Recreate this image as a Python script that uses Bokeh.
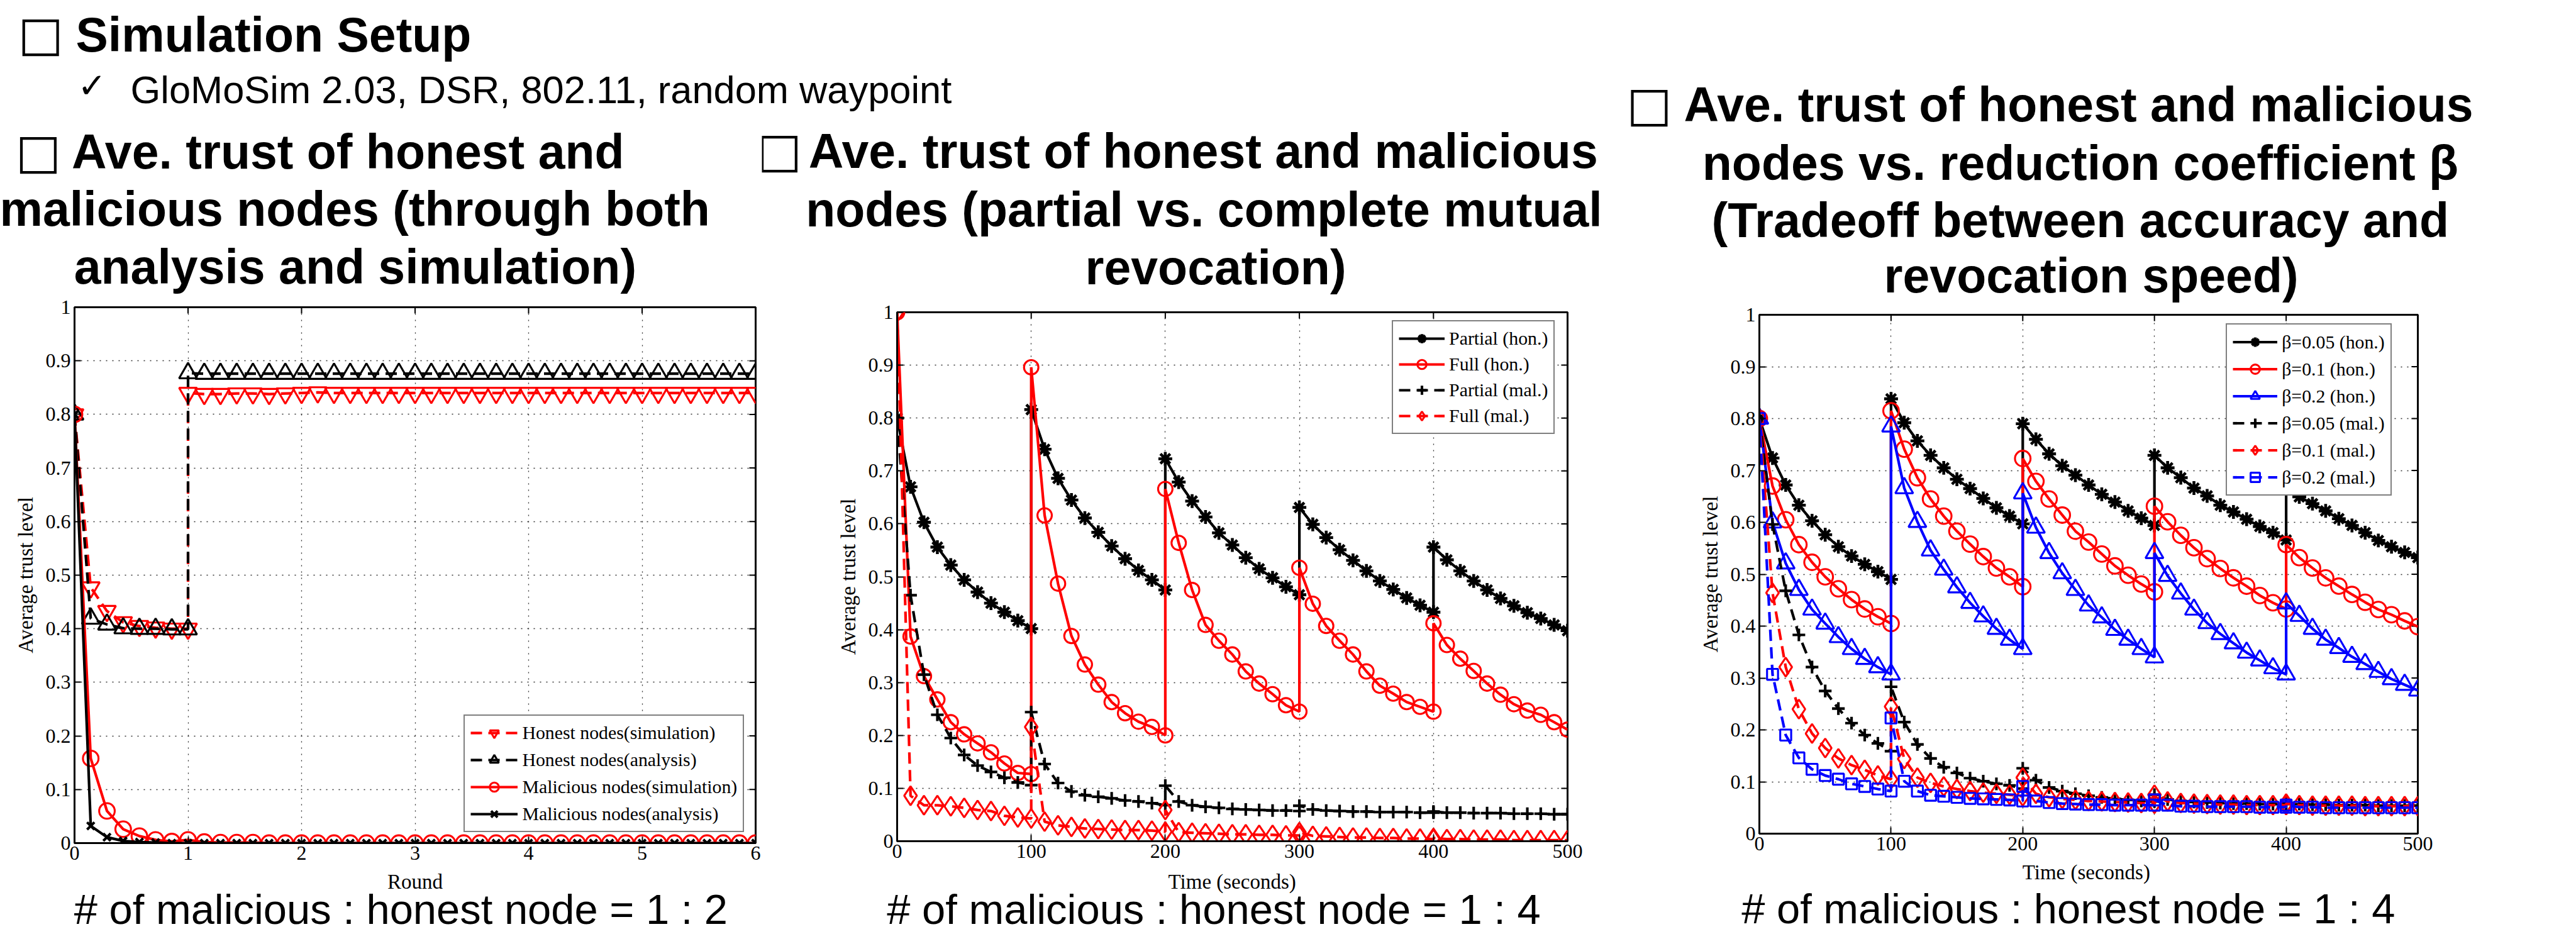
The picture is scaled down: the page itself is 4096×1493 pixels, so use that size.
from bokeh.plotting import figure
from bokeh.models import Range1d, Legend, LegendItem, FixedTicker
from bokeh.layouts import row, column
from bokeh.embed import file_html
from bokeh.resources import INLINE
from bokeh.core.properties import value

# ---------------------------------------------------------------- data
ROUND_TICKS = [0, 1, 2, 3, 4, 5, 6]
ROUND_LABELS = ["0", "1", "2", "3", "4", "5", "6"]
TIME_TICKS = [0, 100, 200, 300, 400, 500]
TIME_LABELS = ["0", "100", "200", "300", "400", "500"]
TRUST_TICKS = [0, 0.1, 0.2, 0.3, 0.4, 0.5, 0.6, 0.7, 0.8, 0.9, 1]
TRUST_LABELS = ["0", "0.1", "0.2", "0.3", "0.4", "0.5", "0.6", "0.7", "0.8", "0.9", "1"]

# plot 1 : rounds sampled 7 times per round
ROUNDS = [i / 7 for i in range(43)]
honest_sim_first = [0.80, 0.477, 0.433, 0.412, 0.405, 0.402, 0.400, 0.400]
honest_sim_after = [0.840, 0.838, 0.838, 0.839, 0.839, 0.838, 0.839, 0.840, 0.841, 0.840, 0.840, 0.840,
                    0.840, 0.840, 0.840, 0.840, 0.840, 0.840, 0.840, 0.840, 0.840, 0.840, 0.840, 0.840,
                    0.840, 0.840, 0.840, 0.840, 0.840, 0.840, 0.840, 0.840, 0.840, 0.840, 0.840, 0.840]
honest_ana_first = [0.80, 0.419, 0.408, 0.401, 0.400, 0.400, 0.399, 0.399]
honest_ana_after = [0.877, 0.876, 0.876, 0.876, 0.876, 0.876, 0.876, 0.876, 0.876, 0.876, 0.876, 0.876,
                    0.876, 0.876, 0.876, 0.876, 0.876, 0.876, 0.876, 0.876, 0.876, 0.876, 0.876, 0.876,
                    0.876, 0.876, 0.876, 0.876, 0.876, 0.876, 0.876, 0.876, 0.876, 0.876, 0.876, 0.876]
malicious_sim = [0.80, 0.158, 0.060, 0.026, 0.013, 0.006, 0.003, 0.006, 0.002, 0.001, 0.001,
                 0.001, 0.000, 0.000, 0.000, 0.000, 0.000, 0.000, 0.000, 0.000, 0.000, 0.000,
                 0.000, 0.000, 0.000, 0.000, 0.000, 0.000, 0.000, 0.000, 0.000, 0.000, 0.000,
                 0.000, 0.000, 0.000, 0.000, 0.000, 0.000, 0.000, 0.000, 0.000, 0.000]
malicious_ana = [0.80, 0.032, 0.011, 0.004, 0.002, 0.001, 0.000, 0.000, 0.000, 0.000, 0.000,
                 0.000, 0.000, 0.000, 0.000, 0.000, 0.000, 0.000, 0.000, 0.000, 0.000, 0.000,
                 0.000, 0.000, 0.000, 0.000, 0.000, 0.000, 0.000, 0.000, 0.000, 0.000, 0.000,
                 0.000, 0.000, 0.000, 0.000, 0.000, 0.000, 0.000, 0.000, 0.000, 0.000]

# plots 2 and 3 : time in seconds, one list per 100 s revocation epoch (11 samples each)
TIME = [0, 10, 20, 30, 40, 50, 60, 70, 80, 90, 100, 110, 120, 130, 140, 150, 160, 170, 180, 190,
        200, 210, 220, 230, 240, 250, 260, 270, 280, 290, 300, 310, 320, 330, 340, 350, 360, 370,
        380, 390, 400, 410, 420, 430, 440, 450, 460, 470, 480, 490, 500]

partial_hon = [[0.80, 0.670, 0.603, 0.556, 0.522, 0.494, 0.471, 0.450, 0.433, 0.417, 0.402],
               [0.816, 0.741, 0.686, 0.645, 0.611, 0.584, 0.558, 0.534, 0.512, 0.494, 0.475],
               [0.723, 0.679, 0.643, 0.613, 0.583, 0.560, 0.536, 0.515, 0.498, 0.481, 0.466],
               [0.631, 0.599, 0.574, 0.551, 0.531, 0.511, 0.492, 0.476, 0.460, 0.446, 0.433],
               [0.556, 0.532, 0.511, 0.492, 0.475, 0.459, 0.445, 0.432, 0.421, 0.409, 0.398]]
full_hon = [[1.00, 0.387, 0.312, 0.268, 0.225, 0.202, 0.185, 0.168, 0.147, 0.129, 0.127],
            [0.896, 0.616, 0.487, 0.388, 0.334, 0.296, 0.263, 0.242, 0.226, 0.216, 0.200],
            [0.666, 0.564, 0.475, 0.409, 0.379, 0.353, 0.321, 0.298, 0.278, 0.257, 0.245],
            [0.517, 0.449, 0.407, 0.379, 0.353, 0.321, 0.294, 0.279, 0.263, 0.254, 0.245],
            [0.412, 0.371, 0.345, 0.322, 0.298, 0.277, 0.259, 0.247, 0.239, 0.225, 0.211]]
partial_mal = [[0.80, 0.465, 0.315, 0.239, 0.195, 0.163, 0.143, 0.131, 0.120, 0.111, 0.106],
               [0.244, 0.146, 0.110, 0.094, 0.087, 0.084, 0.081, 0.077, 0.075, 0.072, 0.068],
               [0.105, 0.075, 0.068, 0.065, 0.063, 0.061, 0.060, 0.059, 0.058, 0.058, 0.057],
               [0.067, 0.060, 0.058, 0.057, 0.056, 0.056, 0.055, 0.055, 0.055, 0.054, 0.054],
               [0.056, 0.054, 0.054, 0.053, 0.053, 0.053, 0.052, 0.052, 0.052, 0.051, 0.051]]
full_mal = [[1.00, 0.086, 0.068, 0.068, 0.066, 0.063, 0.059, 0.057, 0.048, 0.045, 0.043],
            [0.216, 0.037, 0.030, 0.027, 0.024, 0.023, 0.022, 0.021, 0.021, 0.020, 0.018],
            [0.059, 0.017, 0.016, 0.015, 0.014, 0.013, 0.013, 0.012, 0.012, 0.011, 0.011],
            [0.017, 0.010, 0.009, 0.008, 0.007, 0.007, 0.006, 0.006, 0.005, 0.005, 0.004],
            [0.006, 0.004, 0.004, 0.003, 0.003, 0.003, 0.002, 0.002, 0.002, 0.002, 0.002]]

beta005_hon = [[0.80, 0.724, 0.672, 0.633, 0.603, 0.576, 0.553, 0.535, 0.519, 0.505, 0.490],
               [0.838, 0.792, 0.757, 0.729, 0.705, 0.683, 0.665, 0.646, 0.628, 0.612, 0.597],
               [0.790, 0.760, 0.732, 0.709, 0.691, 0.672, 0.654, 0.639, 0.622, 0.608, 0.594],
               [0.729, 0.705, 0.686, 0.666, 0.651, 0.633, 0.620, 0.606, 0.592, 0.580, 0.566],
               [0.668, 0.649, 0.636, 0.622, 0.607, 0.594, 0.580, 0.565, 0.553, 0.542, 0.532]]
beta01_hon = [[0.80, 0.670, 0.605, 0.557, 0.523, 0.495, 0.472, 0.451, 0.433, 0.418, 0.405],
              [0.815, 0.741, 0.686, 0.645, 0.612, 0.583, 0.558, 0.534, 0.512, 0.495, 0.476],
              [0.723, 0.679, 0.645, 0.614, 0.583, 0.562, 0.539, 0.516, 0.498, 0.481, 0.466],
              [0.631, 0.601, 0.575, 0.551, 0.530, 0.511, 0.493, 0.477, 0.459, 0.445, 0.433],
              [0.557, 0.532, 0.512, 0.493, 0.477, 0.461, 0.446, 0.432, 0.422, 0.410, 0.399]]
beta02_hon = [[0.80, 0.600, 0.521, 0.470, 0.432, 0.405, 0.379, 0.356, 0.337, 0.321, 0.307],
              [0.785, 0.666, 0.601, 0.546, 0.509, 0.475, 0.445, 0.419, 0.395, 0.374, 0.356],
              [0.656, 0.590, 0.541, 0.502, 0.470, 0.440, 0.417, 0.393, 0.374, 0.356, 0.340],
              [0.541, 0.497, 0.463, 0.432, 0.406, 0.385, 0.367, 0.349, 0.334, 0.319, 0.307],
              [0.444, 0.420, 0.395, 0.374, 0.358, 0.341, 0.327, 0.312, 0.298, 0.287, 0.276]]
beta005_mal = [[0.80, 0.596, 0.468, 0.383, 0.321, 0.275, 0.241, 0.213, 0.190, 0.174, 0.159],
               [0.283, 0.215, 0.172, 0.145, 0.128, 0.117, 0.107, 0.101, 0.096, 0.093, 0.087],
               [0.126, 0.103, 0.089, 0.082, 0.077, 0.073, 0.070, 0.067, 0.065, 0.063, 0.062],
               [0.075, 0.066, 0.063, 0.061, 0.060, 0.059, 0.058, 0.058, 0.057, 0.057, 0.057],
               [0.060, 0.057, 0.056, 0.056, 0.055, 0.055, 0.055, 0.054, 0.054, 0.054, 0.054]]
beta01_mal = [[0.80, 0.464, 0.321, 0.240, 0.193, 0.165, 0.145, 0.132, 0.123, 0.112, 0.105],
              [0.245, 0.144, 0.108, 0.098, 0.091, 0.086, 0.082, 0.079, 0.077, 0.075, 0.072],
              [0.108, 0.077, 0.070, 0.067, 0.065, 0.063, 0.062, 0.061, 0.060, 0.059, 0.058],
              [0.075, 0.062, 0.059, 0.058, 0.057, 0.056, 0.056, 0.055, 0.055, 0.055, 0.055],
              [0.058, 0.055, 0.054, 0.054, 0.054, 0.054, 0.053, 0.053, 0.053, 0.053, 0.053]]
beta02_mal = [[0.80, 0.307, 0.190, 0.146, 0.124, 0.112, 0.105, 0.096, 0.091, 0.086, 0.082],
              [0.223, 0.101, 0.082, 0.074, 0.072, 0.070, 0.068, 0.067, 0.066, 0.065, 0.063],
              [0.091, 0.063, 0.060, 0.058, 0.057, 0.056, 0.056, 0.055, 0.055, 0.055, 0.055],
              [0.065, 0.055, 0.053, 0.053, 0.052, 0.052, 0.052, 0.052, 0.051, 0.051, 0.051],
              [0.055, 0.051, 0.051, 0.050, 0.050, 0.050, 0.050, 0.050, 0.050, 0.050, 0.050]]

# ---------------------------------------------------------------- geometry (reference px)
S = 0.9163


def px(v):
    return int(round(v * S))


TOT_W, TOT_H = 4470, 1620
X12, X23, HH = 1322, 2814, 205
T12, B12 = 513, 1507          # plot band of columns 1 and 2
T3, B3 = 526, 1491            # plot band of column 3
FR1 = (129, 1311, 533, 1462)  # left, right, top, bottom of the frames
FR2 = (1556, 2720, 541, 1459)
FR3 = (3053, 4195, 546, 1446)

SANS = "Liberation Sans"
SERIF = "Liberation Serif"
MID = {SANS: 0.3465, SERIF: 0.3375, "DejaVu Sans": 0.346}


def no_align(p):
    try:
        p.frame_align = False
    except Exception:
        pass


def epochs(vals):
    xs, ys = [], []
    for k, v in enumerate(vals):
        xs += TIME[10 * k:10 * k + 11]
        ys += v
    return xs, ys


def text_fig(x0, x1, y0, y1):
    # a text-only panel whose data space is the reference's pixel space (y downwards)
    p = figure(width=px(x1) - px(x0), height=px(y1) - px(y0), x_range=Range1d(x0, x1),
               y_range=Range1d(y1, y0), output_backend="svg", toolbar_location=None, title=None,
               x_axis_type=None, y_axis_type=None,
               min_border_left=0, min_border_right=0, min_border_top=0, min_border_bottom=0)
    no_align(p)
    p.outline_line_color = None
    p.xgrid.visible = False
    p.ygrid.visible = False
    p.background_fill_color = "white"
    p.border_fill_color = "white"
    return p


def put(p, xa, ya, text, size, bold=False, align="left", font=SANS, middle=False):
    ym = ya if middle else ya - MID[font] * size
    p.text(x=[xa], y=[ym], text=[text], text_font=value(font),
           text_font_size=value(f"{size * S:.1f}px"),
           text_font_style="bold" if bold else "normal", text_color="black",
           text_align=align, text_baseline="middle")


def box(p, cx, cy):
    put(p, cx, cy, "\u25a1", 83, bold=True, align="center", font="DejaVu Sans", middle=True)


def style_axis(ax, ticks, labels):
    ax.ticker = FixedTicker(ticks=ticks)
    ax.major_label_overrides = {t: l for t, l in zip(ticks, labels)}
    ax.major_tick_in = px(11)
    ax.major_tick_out = 0
    ax.minor_tick_in = 0
    ax.minor_tick_out = 0
    ax.major_tick_line_width = 2
    ax.major_tick_line_color = "black"
    ax.axis_line_width = 3
    ax.axis_line_color = "black"
    ax.major_label_text_font = SERIF
    ax.major_label_text_font_size = f"{35 * S:.1f}px"
    ax.major_label_text_color = "black"
    ax.axis_label_text_font = SERIF
    ax.axis_label_text_font_size = f"{36 * S:.1f}px"
    ax.axis_label_text_font_style = "normal"
    ax.axis_label_text_color = "black"


def make_fig(x0, x1, y0, y1, fr, xr, xticks, xlabels):
    fl, frr, ft, fb = fr
    p = figure(width=px(x1) - px(x0), height=px(y1) - px(y0),
               x_range=Range1d(*xr), y_range=Range1d(0, 1),
               output_backend="svg", toolbar_location=None, title=None,
               min_border_left=px(fl) - px(x0), min_border_right=px(x1) - px(frr),
               min_border_top=px(ft) - px(y0), min_border_bottom=px(y1) - px(fb))
    no_align(p)
    p.outline_line_color = "black"
    p.outline_line_width = 3
    p.background_fill_color = "white"
    p.border_fill_color = "white"
    style_axis(p.xaxis[0], xticks, xlabels)
    style_axis(p.yaxis[0], TRUST_TICKS, TRUST_LABELS)
    p.yaxis[0].axis_label = "Average trust level"
    p.xaxis[0].major_label_standoff = 5
    p.yaxis[0].major_label_standoff = px(7)
    p.yaxis[0].axis_label_standoff = px(11)
    for g, t in ((p.xgrid[0], xticks), (p.ygrid[0], TRUST_TICKS)):
        g.ticker = FixedTicker(ticks=t)
        g.grid_line_color = "#333333"
        g.grid_line_width = 1.3
        g.grid_line_dash = "2 8"
    # mirrored inward ticks on the top and right edges (11 px long)
    dy = 11 / (fb - ft)
    dx = 11 / (frr - fl) * (xr[1] - xr[0])
    p.segment(x0=xticks, x1=xticks, y0=[1] * len(xticks), y1=[1 - dy] * len(xticks),
              line_color="black", line_width=2)
    p.segment(x0=[xr[1]] * len(TRUST_TICKS), x1=[xr[1] - dx] * len(TRUST_TICKS),
              y0=TRUST_TICKS, y1=TRUST_TICKS, line_color="black", line_width=2)
    return p


DASH = "18 10"


def series(p, x, y, color, dash, marker, msize, lw=4.6, mlw=3.4):
    r1 = p.line(x, y, line_color=color, line_width=lw * S, line_dash=dash)
    r2 = p.scatter(x, y, marker=marker, size=msize * S, line_color=color, fill_color=None,
                   line_width=mlw * S)
    return [r1, r2]


def legend(p, fr, items, left, bottom, glyph_w, item_h, spacing):
    fl, frr, ft, fb = fr
    lg = Legend(items=[LegendItem(label=l, renderers=r) for l, r in items],
                location=((left - fl) * S, (fb - bottom) * S),
                glyph_width=int(glyph_w * S), glyph_height=int(item_h * S),
                label_height=int(item_h * S), spacing=int(round(spacing * S)),
                padding=int(10 * S), margin=0, label_standoff=int(8 * S),
                label_text_font=SERIF, label_text_font_size=f"{32.5 * S:.1f}px",
                label_text_color="black", border_line_color="black", border_line_width=2.5,
                background_fill_color="white", background_fill_alpha=1.0)
    p.add_layout(lg)


# ---------------------------------------------------------------- header
hdr = text_fig(0, X23, 0, HH)
box(hdr, 70, 58)
put(hdr, 131, 89, "Simulation Setup", 84, bold=True)
put(hdr, 134, 168, "\u2713", 60, font="DejaVu Sans")
put(hdr, 226, 178, "GloMoSim 2.03, DSR, 802.11, random waypoint", 67)

# ---------------------------------------------------------------- column 1
t1 = text_fig(0, X12, HH, T12)
box(t1, 66, 262)
put(t1, 124, 291, "Ave. trust of honest and", 84, bold=True)
put(t1, -1, 391, "malicious nodes (through both", 84, bold=True)
put(t1, 128, 491, "analysis and simulation)", 84, bold=True)

p1 = make_fig(0, X12, T12, B12, FR1, (0, 6), ROUND_TICKS, ROUND_LABELS)
hs = series(p1, ROUNDS[:8] + ROUNDS[7:], honest_sim_first + honest_sim_after, "#ff0000", DASH,
            "inverted_triangle", 31)
ha = series(p1, ROUNDS[:8] + ROUNDS[7:], honest_ana_first + honest_ana_after, "black", DASH,
            "triangle", 31)
ms = series(p1, ROUNDS, malicious_sim, "#ff0000", "solid", "circle", 27)
ma = series(p1, ROUNDS, malicious_ana, "black", "solid", "x", 18, mlw=4.5)
legend(p1, FR1, [("Honest nodes(simulation)", hs), ("Honest nodes(analysis)", ha),
                 ("Malicious nodes(simulation)", ms), ("Malicious nodes(analysis)", ma)],
       805, 1443, 82, 40, 7.7)

c1 = text_fig(0, X12, B12, TOT_H)
put(c1, 720, 1529, "Round", 36, align="center", font=SERIF, middle=True)
put(c1, 128, 1602, "# of malicious : honest node = 1 : 2", 73)

# ---------------------------------------------------------------- column 2
t2 = text_fig(X12, X23, HH, T12)
box(t2, 1352, 260)
put(t2, 1403, 290, "Ave. trust of honest and malicious", 84, bold=True)
put(t2, 1398, 392, "nodes (partial vs. complete mutual", 84, bold=True)
put(t2, 1883, 492, "revocation)", 84, bold=True)

p2 = make_fig(X12, X23, T12, B12, FR2, (0, 500), TIME_TICKS, TIME_LABELS)
x, y = epochs(partial_hon)
r_ph = series(p2, x, y, "black", "solid", "asterisk", 24, mlw=5)
x, y = epochs(full_hon)
r_fh = series(p2, x, y, "#ff0000", "solid", "circle", 25)
x, y = epochs(partial_mal)
r_pm = series(p2, x, y, "black", DASH, "cross", 22, mlw=4.5)
x, y = epochs(full_mal)
r_fm = series(p2, x, y, "#ff0000", DASH, "diamond", 33)
legend(p2, FR2, [("Partial (hon.)", r_ph), ("Full (hon.)", r_fh), ("Partial (mal.)", r_pm),
                 ("Full (mal.)", r_fm)], 2415, 753, 80, 40, 6)

c2 = text_fig(X12, X23, B12, TOT_H)
put(c2, 2138, 1529, "Time (seconds)", 36, align="center", font=SERIF, middle=True)
put(c2, 1539, 1602, "# of malicious : honest node = 1 : 4", 73)

# ---------------------------------------------------------------- column 3
t3 = text_fig(X23, TOT_W, 0, T3)
box(t3, 2862, 180)
put(t3, 2922, 210, "Ave. trust of honest and malicious", 84, bold=True)
put(t3, 2954, 311, "nodes vs. reduction coefficient \u03b2", 84, bold=True)
put(t3, 2970, 411, "(Tradeoff between accuracy and", 84, bold=True)
put(t3, 3269, 507, "revocation speed)", 84, bold=True)

p3 = make_fig(X23, TOT_W, T3, B3, FR3, (0, 500), TIME_TICKS, TIME_LABELS)
x, y = epochs(beta005_hon)
b1 = series(p3, x, y, "black", "solid", "asterisk", 24, mlw=5)
x, y = epochs(beta01_hon)
b2 = series(p3, x, y, "#ff0000", "solid", "circle", 27)
x, y = epochs(beta02_hon)
b3 = series(p3, x, y, "#0000ff", "solid", "triangle", 31)
x, y = epochs(beta005_mal)
b4 = series(p3, x, y, "black", DASH, "cross", 22, mlw=4.5)
x, y = epochs(beta01_mal)
b5 = series(p3, x, y, "#ff0000", DASH, "diamond", 33)
x, y = epochs(beta02_mal)
b6 = series(p3, x, y, "#0000ff", DASH, "square", 19)
legend(p3, FR3, [("\u03b2=0.05 (hon.)", b1), ("\u03b2=0.1 (hon.)", b2), ("\u03b2=0.2 (hon.)", b3),
                 ("\u03b2=0.05 (mal.)", b4), ("\u03b2=0.1 (mal.)", b5), ("\u03b2=0.2 (mal.)", b6)],
       3863, 860, 78, 41, 7)

c3 = text_fig(X23, TOT_W, B3, TOT_H)
put(c3, 3620, 1513, "Time (seconds)", 36, align="center", font=SERIF, middle=True)
put(c3, 3022, 1602, "# of malicious : honest node = 1 : 4", 73)

layout = row(column(hdr, row(column(t1, p1, c1), column(t2, p2, c2))), column(t3, p3, c3))
open("out.html", "w").write(file_html(layout, INLINE))
